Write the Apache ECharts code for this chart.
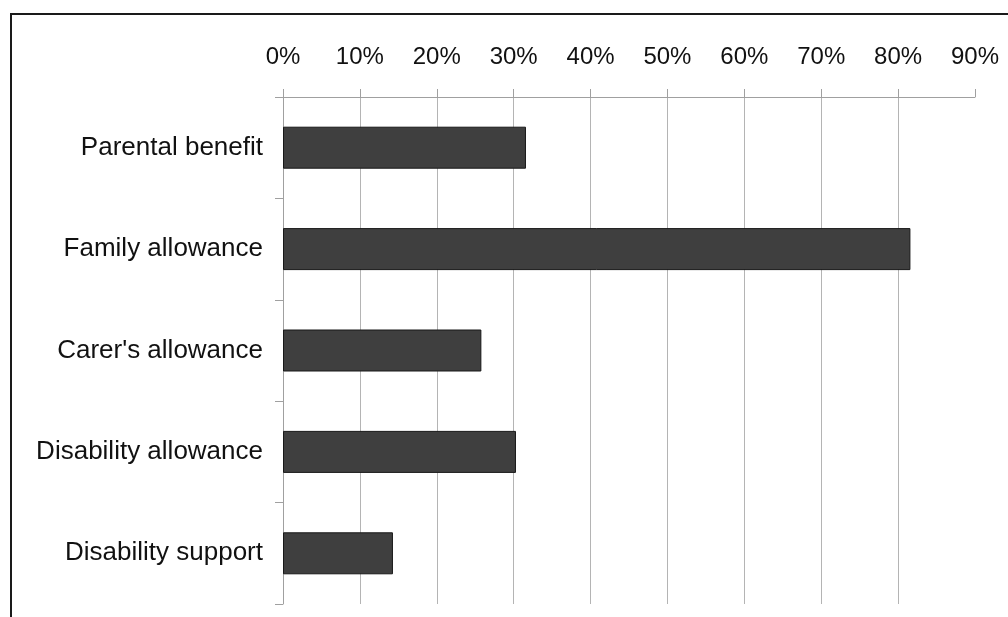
<!DOCTYPE html>
<html>
<head>
<meta charset="utf-8">
<style>
  html, body { margin: 0; padding: 0; background: #fff; }
  #chart { width: 1008px; height: 617px; }
</style>
<script src="https://cdn.jsdelivr.net/npm/echarts@6/dist/echarts.min.js"></script>
</head>
<body>
<div id="chart"></div>
<script>
// Share of recipients by benefit type (%)
const categories = ['Parental benefit', 'Family allowance', "Carer's allowance", 'Disability allowance', 'Disability support'];
const shares = [31.6, 81.6, 25.8, 30.3, 14.3];
const axisMax = 90;
const axisStep = 10;

const chart = echarts.init(document.getElementById('chart'), null, { renderer: 'canvas' });

chart.setOption({
  backgroundColor: '#ffffff',
  animation: false,
  textStyle: { fontFamily: '"Liberation Sans", Arial, sans-serif' },
  graphic: [{
    type: 'rect',
    silent: true,
    shape: { x: 11, y: 14, width: 1100, height: 700 },
    style: { fill: 'none', stroke: '#1a1a1a', lineWidth: 2 }
  }],
  grid: { left: 283, top: 97, right: 33, bottom: 13, containLabel: false },
  xAxis: {
    type: 'value',
    position: 'top',
    min: 0,
    max: axisMax,
    interval: axisStep,
    axisLine: { show: true, lineStyle: { color: '#a0a0a0', width: 1 } },
    axisTick: { show: true, inside: false, length: 8, lineStyle: { color: '#a0a0a0' } },
    axisLabel: {
      formatter: '{value}%',
      color: '#111',
      fontSize: 24,
      margin: 28,
      fontFamily: '"Liberation Sans", Arial, sans-serif'
    },
    splitLine: {
      show: true,
      showMinLine: false,
      showMaxLine: false,
      lineStyle: { color: '#b4b4b4', width: 1 }
    }
  },
  yAxis: {
    type: 'category',
    data: categories,
    inverse: true,
    axisLine: { show: true, lineStyle: { color: '#a0a0a0', width: 1 } },
    axisTick: { show: true, inside: false, length: 8, alignWithLabel: false, lineStyle: { color: '#a0a0a0' } },
    axisLabel: {
      color: '#111',
      fontSize: 26,
      margin: 20,
      fontFamily: '"Liberation Sans", Arial, sans-serif'
    },
    splitLine: { show: false }
  },
  series: [{
    type: 'bar',
    data: shares,
    barWidth: 42,
    itemStyle: { color: '#3f3f3f', borderColor: '#181818', borderWidth: 1 }
  }]
});
</script>
</body>
</html>
